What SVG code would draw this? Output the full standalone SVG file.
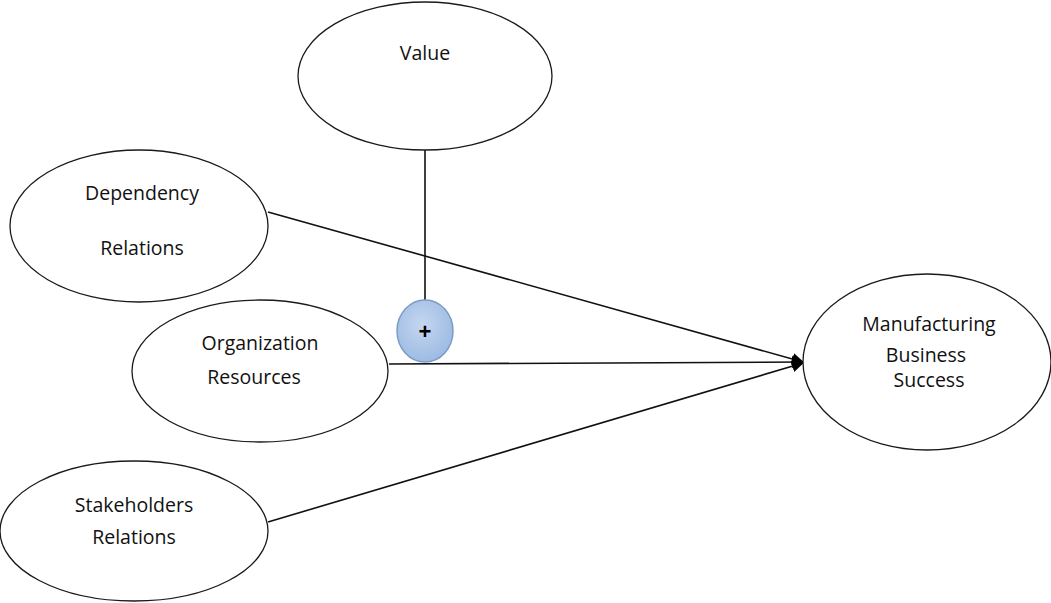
<svg xmlns="http://www.w3.org/2000/svg" width="1051" height="603" viewBox="0 0 1051 603">
<style>
.n{fill:#fff;stroke:#1a1a1a;stroke-width:1.3}
.t{font-family:"Open Sans","Liberation Sans",sans-serif;font-size:19.5px;fill:#111;text-anchor:middle}
.c{stroke:#111;stroke-width:1.6;fill:none}
</style>
<defs>
<marker id="ah" markerWidth="12" markerHeight="12" refX="11" refY="6" orient="auto" markerUnits="userSpaceOnUse">
<path d="M0,0 L12,6 L0,12 z" fill="#000"/>
</marker>
<radialGradient id="bg" cx="0.45" cy="0.4" r="0.6">
<stop offset="0" stop-color="#c5d7f0"/>
<stop offset="1" stop-color="#9dbbe3"/>
</radialGradient>
</defs>
<rect width="1051" height="603" fill="#fff"/>
<g id="connectors">
<line class="c" x1="425" y1="150" x2="425" y2="300"/>
<line class="c" x1="268" y1="212" x2="803" y2="362" marker-end="url(#ah)"/>
<line class="c" x1="389" y1="364" x2="803" y2="362" marker-end="url(#ah)"/>
<line class="c" x1="268" y1="522" x2="803" y2="363" marker-end="url(#ah)"/>
</g>
<g id="value"><ellipse class="n" cx="425" cy="76" rx="127" ry="74"/><text class="t" x="425" y="60">Value</text></g>
<g id="dependency"><ellipse class="n" cx="139" cy="226" rx="129" ry="76"/><text class="t" x="142" y="200">Dependency</text><text class="t" x="142" y="255">Relations</text></g>
<g id="organization"><ellipse class="n" cx="260" cy="371" rx="128" ry="71"/><text class="t" x="260" y="350">Organization</text><text class="t" x="254" y="384">Resources</text></g>
<g id="stakeholders"><ellipse class="n" cx="134" cy="531" rx="134" ry="70"/><text class="t" x="134" y="512">Stakeholders</text><text class="t" x="134" y="544">Relations</text></g>
<g id="manufacturing"><ellipse class="n" cx="927" cy="362" rx="124" ry="88"/><text class="t" x="929" y="331">Manufacturing</text><text class="t" x="926" y="362">Business</text><text class="t" x="929" y="387">Success</text></g>
<g id="plus"><ellipse cx="425" cy="331" rx="28" ry="31" fill="url(#bg)" stroke="#7f9cc4" stroke-width="1.5"/><text x="425" y="339" font-family="Liberation Sans,sans-serif" font-size="22" font-weight="bold" text-anchor="middle" fill="#000">+</text></g>
</svg>
